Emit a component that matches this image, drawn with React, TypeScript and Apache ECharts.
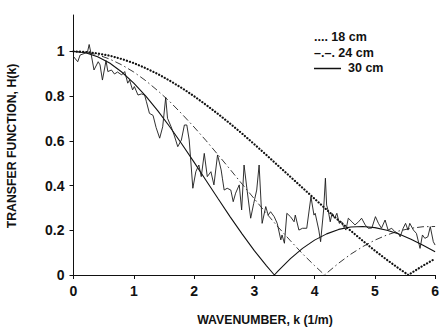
import React, { useEffect, useRef } from "react";
import * as echarts from "echarts";

// Wavenumber grid for the theoretical transfer-function curves (1/m)
const kGrid = [0, 0.2, 0.4, 0.6, 0.8, 1.0, 1.2, 1.4, 1.6, 1.8, 2.0, 2.2, 2.4, 2.6, 2.8, 3.0, 3.2, 3.4, 3.6, 3.8, 4.0, 4.2, 4.4, 4.6, 4.8, 5.0, 5.2, 5.4, 5.6, 5.8, 6.0];

// 18 cm (dotted)
const h18 = [1, 0.998, 0.991, 0.981, 0.966, 0.948, 0.925, 0.899, 0.869, 0.836, 0.800, 0.761, 0.720, 0.677, 0.632, 0.585, 0.537, 0.488, 0.439, 0.390, 0.341, 0.292, 0.244, 0.198, 0.153, 0.109, 0.068, 0.029, 0.008, 0.042, 0.073];
// 24 cm (dash-dot)
const h24 = [1, 0.996, 0.985, 0.966, 0.940, 0.908, 0.869, 0.824, 0.775, 0.720, 0.662, 0.601, 0.537, 0.472, 0.406, 0.341, 0.276, 0.213, 0.153, 0.095, 0.042, 0.008, 0.053, 0.093, 0.127, 0.156, 0.179, 0.197, 0.209, 0.216, 0.217];
// 30 cm (solid)
const h30 = [1, 0.994, 0.976, 0.948, 0.908, 0.858, 0.800, 0.734, 0.662, 0.585, 0.505, 0.423, 0.341, 0.260, 0.183, 0.109, 0.042, 0.020, 0.073, 0.119, 0.156, 0.184, 0.204, 0.215, 0.217, 0.212, 0.200, 0.183, 0.160, 0.133, 0.104];

// Wavenumbers where each theoretical curve touches zero
const zero18 = 5.556;
const zero24 = 4.167;
const zero30 = 3.333;

// Measured (noisy) transfer function
const kMeas = [0.00, 0.07, 0.11, 0.19, 0.23, 0.26, 0.29, 0.34, 0.41, 0.44,
  0.48, 0.54, 0.57, 0.63, 0.68, 0.73, 0.80, 0.85, 0.90, 0.93,
  0.98, 1.01, 1.07, 1.13, 1.18, 1.21, 1.26, 1.32, 1.37, 1.43,
  1.48, 1.53, 1.56, 1.62, 1.67, 1.73, 1.79, 1.84, 1.88, 1.92,
  1.98, 2.03, 2.08, 2.12, 2.17, 2.22, 2.28, 2.33, 2.39, 2.45,
  2.47, 2.50, 2.55, 2.61, 2.65, 2.69, 2.75, 2.79, 2.83, 2.88,
  2.94, 2.99, 3.04, 3.08, 3.13, 3.19, 3.23, 3.27, 3.33, 3.38,
  3.44, 3.46, 3.50, 3.54, 3.60, 3.66, 3.68, 3.74, 3.80, 3.87,
  3.94, 3.99, 4.01, 4.07, 4.10, 4.15, 4.18, 4.20, 4.23, 4.26,
  4.29, 4.33, 4.37, 4.41, 4.45, 4.48, 4.52, 4.56, 4.62, 4.67,
  4.73, 4.78, 4.84, 4.89, 4.95, 5.01, 5.06, 5.11, 5.17, 5.22,
  5.28, 5.33, 5.39, 5.42, 5.47, 5.51, 5.55, 5.58, 5.64, 5.69,
  5.75, 5.79, 5.83, 5.88, 5.92, 5.97, 6.00];
const hMeas = [0.977, 0.954, 0.984, 0.992, 0.995, 1.031, 0.992, 0.917, 0.954, 0.94,
  0.872, 0.959, 0.91, 0.917, 0.899, 0.908, 0.895, 0.91, 0.858, 0.872,
  0.828, 0.843, 0.805, 0.81, 0.805, 0.775, 0.723, 0.714, 0.66, 0.612,
  0.663, 0.794, 0.701, 0.663, 0.626, 0.574, 0.604, 0.671, 0.671, 0.604,
  0.388, 0.462, 0.492, 0.44, 0.544, 0.44, 0.462, 0.403, 0.537, 0.47,
  0.433, 0.38, 0.388, 0.38, 0.328, 0.366, 0.403, 0.291, 0.492, 0.38,
  0.254, 0.32, 0.38, 0.492, 0.231, 0.306, 0.268, 0.283, 0.261, 0.231,
  0.157, 0.179, 0.142, 0.276, 0.261, 0.238, 0.268, 0.201, 0.209, 0.209,
  0.35, 0.268, 0.276, 0.201, 0.149, 0.291, 0.433, 0.313, 0.283, 0.238,
  0.276, 0.254, 0.276, 0.231, 0.238, 0.216, 0.201, 0.254, 0.238, 0.224,
  0.238, 0.254, 0.224, 0.209, 0.21, 0.261, 0.231, 0.209, 0.246, 0.201,
  0.209, 0.194, 0.186, 0.171, 0.209, 0.231, 0.201, 0.231, 0.201, 0.186,
  0.119, 0.179, 0.164, 0.171, 0.216, 0.149, 0.134];

const yTicks = [0, 0.2, 0.4, 0.6, 0.8, 1];
const xTitle = "WAVENUMBER, k (1/m)";
const yTitle = "TRANSFER FUNCTION, H(k)";
const legendTexts = [".... 18 cm", "\u2013.\u2013. 24 cm", "30 cm"];

const FONT = '"Liberation Sans", Arial, Helvetica, sans-serif';

function theory(h: number[], kz: number) {
  const pts = kGrid.map((k, i) => [k, h[i]]);
  pts.push([kz, 0]);
  pts.sort((a, b) => a[0] - b[0]);
  return pts;
}

export default function App() {
  const ref = useRef<HTMLDivElement>(null);
  useEffect(() => {
    const chart = echarts.init(ref.current!, null, { renderer: "svg" });
    const ink = "#111";
    chart.setOption({
      animation: false,
      backgroundColor: "#fff",
      grid: { left: 73.5, right: 5, top: 15, bottom: 54, containLabel: false },
      xAxis: {
        type: "value",
        min: 0,
        max: 6,
        interval: 1,
        axisLine: { show: true, onZero: false, lineStyle: { color: ink, width: 1 } },
        axisTick: { show: true, length: 4, lineStyle: { color: ink } },
        splitLine: { show: false },
        axisLabel: { color: ink, fontFamily: FONT, fontWeight: "bold", fontSize: 14, margin: 9 },
      },
      yAxis: {
        type: "value",
        min: 0,
        max: 1.163,
        axisLine: { show: true, onZero: false, lineStyle: { color: ink, width: 1 } },
        axisTick: { show: true, length: 4, customValues: yTicks, lineStyle: { color: ink } },
        splitLine: { show: false },
        axisLabel: {
          customValues: yTicks,
          color: ink,
          fontFamily: FONT,
          fontWeight: "bold",
          fontSize: 14,
          margin: 9,
          formatter: (v: number) => String(Math.round(v * 10) / 10),
        },
      },
      series: [
        {
          type: "line",
          name: "18 cm",
          data: theory(h18, zero18),
          showSymbol: false,
          symbol: "none",
          silent: true,
          lineStyle: { color: ink, width: 2.2, type: [0.1, 3.1], cap: "round" },
        },
        {
          type: "line",
          name: "24 cm",
          data: theory(h24, zero24),
          showSymbol: false,
          symbol: "none",
          silent: true,
          lineStyle: { color: "#222", width: 0.9, type: [7, 3, 1.5, 3] },
        },
        {
          type: "line",
          name: "30 cm",
          data: theory(h30, zero30),
          showSymbol: false,
          symbol: "none",
          silent: true,
          lineStyle: { color: ink, width: 1.1 },
        },
        {
          type: "line",
          name: "measured",
          data: kMeas.map((k, i) => [k, hMeas[i]]),
          showSymbol: false,
          symbol: "none",
          silent: true,
          lineStyle: { color: "#1a1a1a", width: 0.9 },
        },
      ],
      graphic: [
        {
          type: "text",
          x: 12,
          y: 146,
          rotation: Math.PI / 2,
          style: { text: yTitle, font: `bold 12.3px ${FONT}`, fill: ink, align: "center", verticalAlign: "middle" },
        },
        {
          type: "text",
          x: 265,
          y: 320,
          style: { text: xTitle, font: `bold 12.3px ${FONT}`, fill: ink, align: "center", verticalAlign: "middle" },
        },
        {
          type: "text",
          x: 314,
          y: 37,
          style: { text: legendTexts[0], font: `bold 12.5px ${FONT}`, fill: ink, align: "left", verticalAlign: "middle" },
        },
        {
          type: "text",
          x: 314,
          y: 52.5,
          style: { text: legendTexts[1], font: `bold 12.5px ${FONT}`, fill: ink, align: "left", verticalAlign: "middle" },
        },
        {
          type: "line",
          shape: { x1: 314, y1: 68.5, x2: 341, y2: 68.5 },
          style: { stroke: ink, lineWidth: 1.5 },
        },
        {
          type: "text",
          x: 348,
          y: 68,
          style: { text: legendTexts[2], font: `bold 12.5px ${FONT}`, fill: ink, align: "left", verticalAlign: "middle" },
        },
      ],
    });
    return () => chart.dispose();
  }, []);
  return (
    <div
      ref={ref}
      style={{ position: "fixed", left: 0, top: 0, width: 442, height: 329, background: "#fff" }}
    />
  );
}
